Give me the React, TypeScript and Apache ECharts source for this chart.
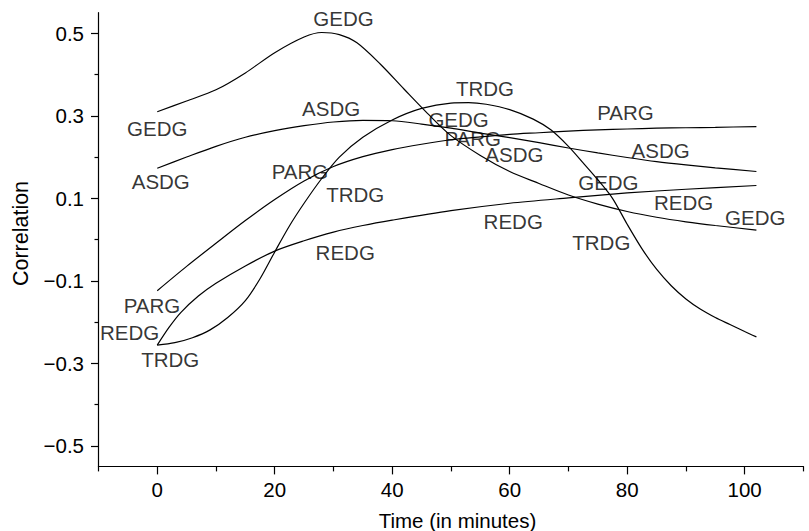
import React, { useEffect, useRef } from "react";
import * as echarts from "echarts";

// Each curve: times (minutes) and correlation values
const GEDG_T = [0, 5, 10, 15, 20, 25, 28, 31, 34, 38, 42, 46, 50, 55, 60, 65, 70, 75, 80, 85, 90, 95, 102];
const GEDG_V = [0.31, 0.336, 0.363, 0.404, 0.453, 0.491, 0.502, 0.497, 0.477, 0.425, 0.365, 0.306, 0.252, 0.204, 0.165, 0.136, 0.108, 0.086, 0.068, 0.054, 0.043, 0.034, 0.023];

const ASDG_T = [0, 5, 10, 15, 20, 25, 30, 35, 40, 45, 50, 55, 60, 65, 70, 75, 80, 85, 90, 95, 102];
const ASDG_V = [0.173, 0.2, 0.226, 0.248, 0.264, 0.276, 0.285, 0.289, 0.288, 0.28, 0.27, 0.258, 0.247, 0.235, 0.222, 0.21, 0.199, 0.189, 0.181, 0.174, 0.165];

const PARG_T = [0, 5, 10, 15, 20, 25, 30, 35, 40, 45, 50, 55, 60, 65, 70, 75, 80, 85, 90, 95, 102];
const PARG_V = [-0.124, -0.065, -0.009, 0.046, 0.097, 0.142, 0.177, 0.201, 0.218, 0.231, 0.242, 0.249, 0.255, 0.259, 0.263, 0.266, 0.268, 0.27, 0.271, 0.272, 0.274];

const REDG_T = [0, 2, 4, 7, 10, 15, 20, 25, 30, 35, 40, 50, 60, 70, 80, 90, 102];
const REDG_V = [-0.256, -0.213, -0.177, -0.137, -0.106, -0.064, -0.028, -0.003, 0.018, 0.034, 0.047, 0.07, 0.088, 0.101, 0.113, 0.122, 0.131];

const TRDG_T = [0, 3, 6, 9, 12, 15, 17.5, 20, 22.5, 25, 28, 31, 35, 40, 45, 50, 53, 56, 60, 64, 67, 70, 72.5, 75, 77.5, 80, 82.5, 85, 87.5, 90, 92.5, 95, 97.5, 100, 102];
const TRDG_V = [-0.256, -0.25, -0.238, -0.219, -0.189, -0.148, -0.095, -0.03, 0.033, 0.088, 0.148, 0.2, 0.248, 0.29, 0.318, 0.331, 0.332, 0.328, 0.315, 0.292, 0.266, 0.226, 0.186, 0.145, 0.1, 0.037, -0.022, -0.072, -0.112, -0.144, -0.169, -0.189, -0.206, -0.223, -0.236];

const SERIES_NAMES = ["GEDG", "ASDG", "PARG", "REDG", "TRDG"];
const SERIES_T = [GEDG_T, ASDG_T, PARG_T, REDG_T, TRDG_T];
const SERIES_V = [GEDG_V, ASDG_V, PARG_V, REDG_V, TRDG_V];

// Curve labels (text, x in minutes, y correlation)
const LABEL_TEXT = ["GEDG", "GEDG", "ASDG", "ASDG", "PARG", "TRDG", "REDG", "PARG", "REDG", "TRDG", "TRDG", "GEDG", "PARG", "ASDG", "REDG", "PARG", "GEDG", "ASDG", "REDG", "GEDG", "TRDG"];
const LABEL_X = [31.7, 0, 0.6, 29.6, 24.3, 33.7, 32, -0.9, -4.7, 2.2, 55.8, 51.3, 53.7, 60.8, 60.6, 79.7, 76.8, 85.7, 89.6, 101.8, 75.6];
const LABEL_Y = [0.535, 0.269, 0.141, 0.318, 0.166, 0.11, -0.031, -0.161, -0.225, -0.291, 0.366, 0.29, 0.245, 0.205, 0.043, 0.309, 0.139, 0.217, 0.09, 0.054, -0.007];

// Ticks
const X_MAJOR_TICKS = [0, 20, 40, 60, 80, 100];
const X_MINOR_TICKS = [-10, 10, 30, 50, 70, 90, 110];
const Y_MAJOR_TICKS = [-0.5, -0.3, -0.1, 0.1, 0.3, 0.5];
const Y_MINOR_TICKS = [-0.4, -0.2, 0, 0.2, 0.4];

const X_TITLE = "Time (in minutes)";
const Y_TITLE = "Correlation";

const FONT = "'Liberation Sans', Arial, Helvetica, sans-serif";

export default function App() {
  const ref = useRef<HTMLDivElement>(null);

  useEffect(() => {
    if (!ref.current) return;
    const chart = echarts.init(ref.current, undefined, { renderer: "svg" });

    const xMin = -10, xMax = 110, yMin = -0.55, yMax = 0.55;
    const axisBase = {
      type: "value" as const,
      splitLine: { show: false },
    };

    const fmtY = (v: number) => (v < 0 ? "\u2212" : "") + Math.abs(v).toFixed(1);

    const option: any = {
      animation: false,
      backgroundColor: "#fff",
      grid: { left: 98.5, right: 5.6, top: 12.7, bottom: 64.6, containLabel: false, outerBoundsMode: "none" },
      xAxis: [
        {
          ...axisBase,
          min: xMin,
          max: xMax,
          position: "bottom",
          axisLine: { show: true, onZero: false, lineStyle: { color: "#000", width: 1.2 } },
          axisTick: { show: true, customValues: X_MAJOR_TICKS, length: 8, lineStyle: { color: "#000", width: 1.2 } },
          axisLabel: {
            show: true,
            customValues: X_MAJOR_TICKS,
            margin: 13,
            color: "#000",
            fontSize: 20.5,
            fontFamily: FONT,
            formatter: (v: number) => String(v),
          },
        },
        {
          ...axisBase,
          min: xMin,
          max: xMax,
          position: "bottom",
          axisLine: { show: false, onZero: false },
          axisTick: { show: true, customValues: X_MINOR_TICKS, length: 5, lineStyle: { color: "#000", width: 1.2 } },
          axisLabel: { show: false },
        },
      ],
      yAxis: [
        {
          ...axisBase,
          min: yMin,
          max: yMax,
          position: "left",
          axisLine: { show: true, onZero: false, lineStyle: { color: "#000", width: 1.2 } },
          axisTick: { show: true, customValues: Y_MAJOR_TICKS, length: 7.5, lineStyle: { color: "#000", width: 1.2 } },
          axisLabel: {
            show: true,
            customValues: Y_MAJOR_TICKS,
            margin: 14.5,
            color: "#000",
            fontSize: 20.5,
            fontFamily: FONT,
            formatter: fmtY,
          },
        },
        {
          ...axisBase,
          min: yMin,
          max: yMax,
          position: "left",
          axisLine: { show: false, onZero: false },
          axisTick: { show: true, customValues: Y_MINOR_TICKS, length: 4, lineStyle: { color: "#000", width: 1.2 } },
          axisLabel: { show: false },
        },
      ],
      series: [
        ...SERIES_NAMES.map((name, si) => ({
          type: "line",
          name,
          xAxisIndex: 0,
          yAxisIndex: 0,
          data: SERIES_T[si].map((t, i) => [t, SERIES_V[si][i]]),
          showSymbol: false,
          symbol: "none",
          smooth: 0.3,
          lineStyle: { color: "#000", width: 1.2 },
          silent: true,
        })),
        {
          type: "scatter",
          xAxisIndex: 0,
          yAxisIndex: 0,
          symbolSize: 1,
          itemStyle: { color: "transparent" },
          data: LABEL_TEXT.map((n, i) => [LABEL_X[i], LABEL_Y[i], n]),
          label: {
            show: true,
            position: "inside",
            formatter: (p: any) => p.data[2],
            color: "#000",
            textBorderWidth: 0,
            fontSize: 20.5,
            fontFamily: FONT,
          },
          silent: true,
          z: 5,
        },
      ],
      graphic: [
        {
          type: "text",
          x: 457.5,
          y: 520,
          style: {
            text: X_TITLE,
            fill: "#000",
            fontSize: 20.5,
            fontFamily: FONT,
            align: "center",
            verticalAlign: "middle",
          },
        },
        {
          type: "text",
          x: 20.5,
          y: 233.5,
          rotation: Math.PI / 2,
          style: {
            text: Y_TITLE,
            fill: "#000",
            fontSize: 21.5,
            fontFamily: FONT,
            align: "center",
            verticalAlign: "middle",
          },
        },
      ],
    };

    chart.setOption(option);
    return () => chart.dispose();
  }, []);

  return (
    <div
      ref={ref}
      style={{ position: "fixed", left: 0, top: 0, width: 809, height: 531, background: "#fff" }}
    />
  );
}
